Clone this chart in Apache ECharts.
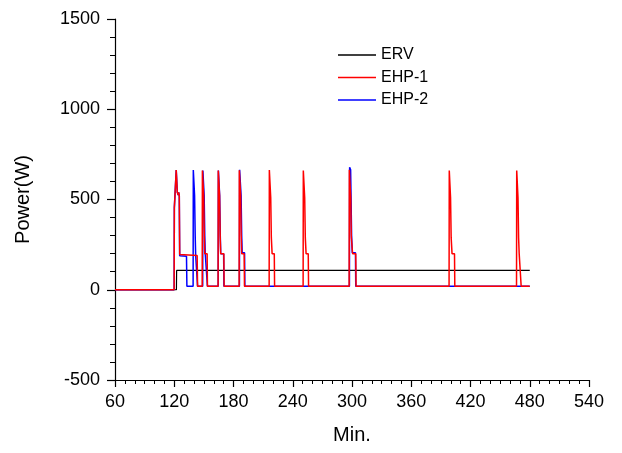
<!DOCTYPE html>
<html>
<head>
<meta charset="utf-8">
<script src="https://cdn.jsdelivr.net/npm/echarts@6/dist/echarts.min.js"></script>
<style>html,body{margin:0;padding:0;background:#fff}#c{width:622px;height:453px}</style>
</head>
<body>
<div id="c"></div>
<script>
var seriesNames = ['ERV', 'EHP-1', 'EHP-2'];
var xTicks = [60, 120, 180, 240, 300, 360, 420, 480, 540];
var yTicks = [-500, 0, 500, 1000, 1500];

var erv = [[60,0],[122.2,0],[122.4,107],[480,107]];

var ehp1 = [
  [60,0],[119.9,0],[120.1,455],[121.8,460],[122.0,663],[122.7,660],[123.1,540],[124.0,525],[124.5,540],[125.1,520],[125.5,195],[143.2,190],[143.6,20],
  [148.3,20],[148.5,660],[149.4,655],[149.8,520],[150.4,300],[150.9,200],[153.3,200],[153.6,20],
  [164.4,20],[164.6,660],[165.5,655],[165.9,520],[166.5,300],[167.0,200],[170.2,200],[170.5,20],
  [185.7,20],[185.9,662],[186.8,655],[187.2,520],[187.8,300],[188.3,200],[190.8,200],[191.1,20],
  [216.1,20],[216.3,663],[217.4,655],[217.7,510],[218.3,290],[219.1,200],[221.3,200],[221.6,20],
  [250.5,20],[250.7,660],[251.7,650],[252.1,510],[252.7,290],[253.5,200],[255.7,200],[256.0,20],
  [297.1,20],[297.3,665],[298.3,655],[298.7,510],[299.3,290],[300.6,200],[303.8,200],[304.1,20],
  [398.3,20],[398.5,660],[399.4,650],[399.8,510],[400.4,290],[401.3,200],[403.8,200],[404.1,20],
  [466.6,20],[466.8,660],[467.7,650],[468.1,510],[468.7,290],[469.3,200],[471.0,200],[471.3,20],
  [480,20]
];

var ehp2 = [
  [60,0],[119.9,0],[120.1,455],[121.8,460],[122.0,663],[122.7,660],[123.1,540],[124.0,525],[124.5,540],[125.1,520],[125.5,188],[132.4,185],[132.8,20],
  [139.1,20],[139.3,663],[140.2,655],[140.6,520],[141.2,300],[141.7,190],[143.2,190],[143.6,20],
  [148.8,20],[149.0,660],[149.9,655],[150.3,520],[150.9,300],[151.4,200],[153.3,200],[153.6,20],
  [164.5,20],[164.7,660],[165.6,655],[166.0,520],[166.6,300],[167.1,200],[170.0,200],[170.3,20],
  [186.0,20],[186.2,665],[187.3,660],[187.7,520],[188.3,300],[188.8,205],[191.2,205],[191.5,20],
  [297.4,20],[297.6,678],[298.6,665],[299.0,520],[299.6,300],[300.3,205],[303.5,205],[303.8,20],
  [480,20]
];

var font = '"Liberation Sans", Arial, sans-serif';
var chart = echarts.init(document.getElementById('c'), null, {renderer: 'canvas'});
chart.setOption({
  animation: false,
  backgroundColor: '#fff',
  grid: {left: 115, right: 33, top: 19, bottom: 73, containLabel: false},
  legend: {
    orient: 'vertical', left: 333, top: 42,
    itemWidth: 38, itemHeight: 14, itemGap: 6.5,
    data: seriesNames,
    textStyle: {fontFamily: font, fontSize: 16, color: '#000', padding: [0,0,0,0]},
    icon: 'path://M0,0 L38,0 L38,1.3 L0,1.3 Z'
  },
  xAxis: {
    type: 'value', min: xTicks[0], max: xTicks[xTicks.length-1], interval: 60,
    name: 'Min.', nameLocation: 'middle', nameGap: 45,
    nameTextStyle: {fontFamily: font, fontSize: 20, color: '#000'},
    axisLine: {show: true, onZero: false, lineStyle: {color: '#000', width: 1.2}},
    axisTick: {show: true, inside: false, length: 7, lineStyle: {color: '#000', width: 1.2}},
    minorTick: {show: true, splitNumber: 6, length: 4, lineStyle: {color: '#000', width: 1}},
    axisLabel: {fontFamily: font, fontSize: 18, color: '#000', margin: 13, formatter: function (v) { return String(v); }},
    splitLine: {show: false}
  },
  yAxis: {
    type: 'value', min: yTicks[0], max: yTicks[yTicks.length-1], interval: 500,
    name: 'Power(W)', nameLocation: 'middle', nameGap: 82,
    nameTextStyle: {fontFamily: font, fontSize: 20, color: '#000'},
    axisLine: {show: true, onZero: false, lineStyle: {color: '#000', width: 1.2}},
    axisTick: {show: true, inside: false, length: 8, lineStyle: {color: '#000', width: 1.2}},
    minorTick: {show: true, splitNumber: 5, length: 5, lineStyle: {color: '#000', width: 1}},
    axisLabel: {fontFamily: font, fontSize: 18, color: '#000', margin: 15, formatter: function (v) { return String(v); }},
    splitLine: {show: false}
  },
  series: [
    {name: seriesNames[0], type: 'line', data: erv, symbol: 'none', z: 2,
     lineStyle: {color: '#000', width: 1.2}, itemStyle: {color: '#000'}},
    {name: seriesNames[1], type: 'line', data: ehp1, symbol: 'none', z: 4,
     lineStyle: {color: '#ff0000', width: 1.5}, itemStyle: {color: '#ff0000'}},
    {name: seriesNames[2], type: 'line', data: ehp2, symbol: 'none', z: 3,
     lineStyle: {color: '#0000ff', width: 1.5}, itemStyle: {color: '#0000ff'}}
  ]
});
</script>
</body>
</html>
